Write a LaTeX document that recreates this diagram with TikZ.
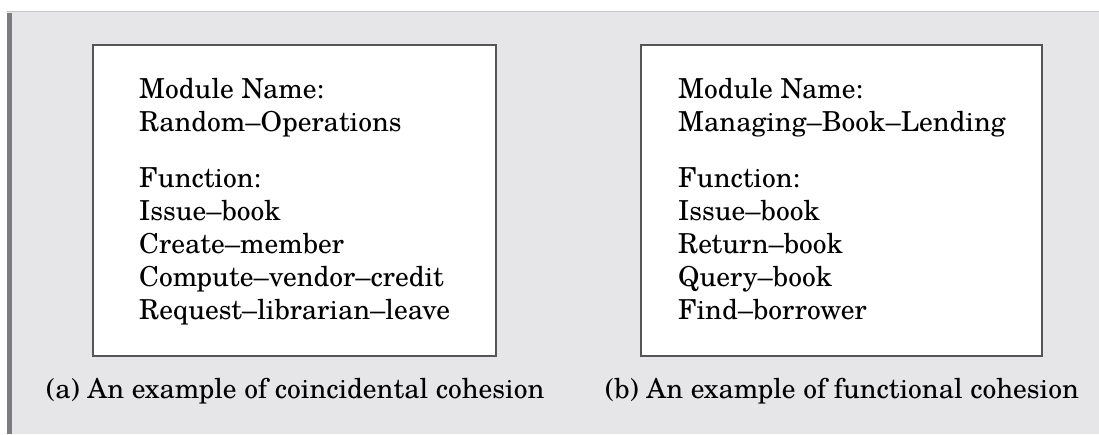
\documentclass[tikz,border=0pt]{standalone}
\usepackage{fontspec}
\setmainfont{TeX Gyre Schola}
\begin{document}
\begin{tikzpicture}[x=1pt,y=-1pt,
  panel/.style={fill=panelgray},
  modbox/.style={draw=boxedge, line width=1.6pt, fill=white, inner sep=0pt,
                 minimum height=311pt},
  line/.style={anchor=base west, inner sep=0pt, font=\fontsize{27.5}{33}\selectfont},
  caption/.style={anchor=base west, inner sep=0pt, font=\fontsize{27.5}{33}\selectfont}]
\definecolor{panelgray}{HTML}{E6E6E8}
\definecolor{boxedge}{HTML}{555555}
\definecolor{topedge}{HTML}{C8C8CA}
\definecolor{sidebar}{HTML}{7C7C7E}
\useasboundingbox (0,0) rectangle (1099,434);
% grey panel with its shaded left edge
\fill[panel] (7,11) rectangle (1099,434);
\draw[topedge, line width=1.5pt] (7,11.5) -- (1099,11.5);
\fill[sidebar] (7,13) rectangle (12,434);
% the two module boxes
\node[modbox, minimum width=403pt] (boxA) at (294.5,200.5) {};
\node[modbox, minimum width=401pt] (boxB) at (841.5,200.5) {};
% coincidental cohesion module
\node[line] (a1) at (139,98)  {Module Name:};
\node[line] (a2) at (139,131) {Random--Operations};
\node[line] (a3) at (139,187) {Function:};
\node[line] (a4) at (139,220) {Issue--book};
\node[line] (a5) at (139,253) {Create--member};
\node[line] (a6) at (139,286) {Compute--vendor--credit};
\node[line] (a7) at (139,319) {Request--librarian--leave};
% functional cohesion module
\node[line] (b1) at (678,98)  {Module Name:};
\node[line] (b2) at (678,131) {Managing--Book--Lending};
\node[line] (b3) at (678,187) {Function:};
\node[line] (b4) at (678,220) {Issue--book};
\node[line] (b5) at (678,253) {Return--book};
\node[line] (b6) at (678,286) {Query--book};
\node[line] (b7) at (678,319) {Find--borrower};
% captions
\node[caption] (capA) at (46,398)  {(a) An example of coincidental cohesion};
\node[caption] (capB) at (605,398) {(b) An example of functional cohesion};
\end{tikzpicture}
\end{document}
